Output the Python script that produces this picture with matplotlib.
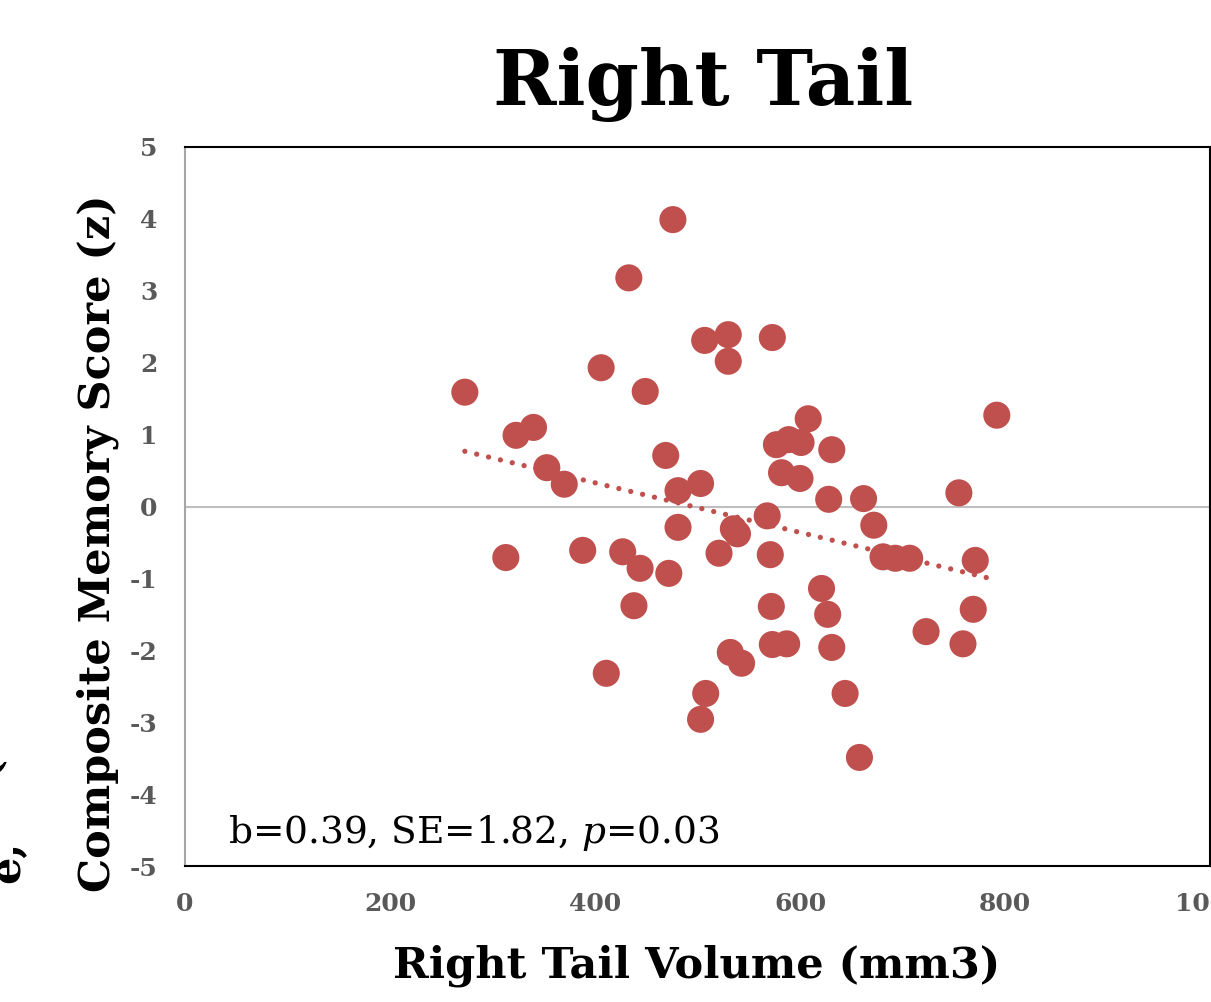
import numpy as np
import matplotlib
matplotlib.use("Agg")
import matplotlib.pyplot as plt

# ---- data ----
volume = [273, 313, 323, 340, 353, 370, 388, 406, 411, 427, 433, 438, 444, 449,
          469, 472, 476, 481, 503, 481, 507, 530, 530, 503, 508, 521, 535, 539,
          532, 543, 568, 571, 572, 573, 573, 587, 577, 589, 601, 582, 600, 608,
          631, 628, 621, 627, 631, 644, 658, 662, 672, 681, 693, 707, 723, 755,
          759, 769, 771, 792]
memory = [1.59, -0.71, 0.99, 1.10, 0.54, 0.31, -0.61, 1.93, -2.32, -0.63, 3.18,
          -1.38, -0.86, 1.60, 0.71, -0.93, 3.99, 0.22, 0.32, -0.29, 2.31, 2.39,
          2.02, -2.96, -2.60, -0.65, -0.31, -0.38, -2.03, -2.18, -0.13, -0.67,
          -1.39, 2.35, -1.92, -1.91, 0.86, 0.93, 0.89, 0.47, 0.39, 1.22, 0.79,
          0.10, -1.14, -1.50, -1.96, -2.60, -3.49, 0.11, -0.26, -0.70, -0.72,
          -0.72, -1.74, 0.19, -1.91, -1.43, -0.75, 1.27]
x_ticks = [0, 200, 400, 600, 800, 1000]
x_tick_labels = ["0", "200", "400", "600", "800", "1000"]
y_ticks = [-5, -4, -3, -2, -1, 0, 1, 2, 3, 4, 5]
y_tick_labels = ["-5", "-4", "-3", "-2", "-1", "0", "1", "2", "3", "4", "5"]

title = "Right Tail"
xlabel = "Right Tail Volume (mm3)"
ylabel = "Composite Memory Score (z)"
stats_text = r"b=0.39, SE=1.82, $p$=0.03"

plt.rcParams['mathtext.fontset'] = 'dejavuserif'
plt.rcParams['axes.unicode_minus'] = False
SERIF = ['DejaVu Serif']
RED = '#C0504D'
GRAY = '#595959'

fig = plt.figure(figsize=(12.11, 10.02), dpi=100)
ax = fig.add_axes([185/1211, 1-866/1002, 1025/1211, 719/1002])

ax.set_xlim(0, 1000)
ax.set_ylim(-5, 5)

ax.axhline(0, color='#BFBFBF', lw=1.5, zorder=1)

ax.scatter(volume, memory, s=380, color=RED, edgecolors='none', zorder=3)

# linear trend line
xv = np.array(volume, dtype=float)
yv = np.array(memory, dtype=float)
m, c = np.polyfit(xv, yv, 1)
xx = np.array([xv.min(), xv.max()])
ax.plot(xx, m*xx + c, color=RED, lw=3.8, linestyle=(0, (0.01, 2.3)),
        dash_capstyle='round', zorder=4)

ax.set_xticks(x_ticks)
ax.set_xticklabels(x_tick_labels)
ax.set_yticks(y_ticks)
ax.set_yticklabels(y_tick_labels)
ax.tick_params(axis='x', length=0, pad=19, colors=GRAY)
ax.tick_params(axis='y', length=0, pad=20, colors=GRAY)
for lab in ax.get_xticklabels() + ax.get_yticklabels():
    lab.set_fontfamily(SERIF)
    lab.set_fontweight('bold')
    lab.set_fontsize(18)
    lab.set_color(GRAY)

for s in ['top', 'right', 'bottom']:
    ax.spines[s].set_color('black')
    ax.spines[s].set_linewidth(1.5)
ax.spines['left'].set_color('#A6A6A6')
ax.spines['left'].set_linewidth(1.5)

fig.text(703/1211, 1-85/1002, title, ha='center', va='center',
         fontsize=55, fontweight='bold', family=SERIF)
fig.text(697/1211, 1-966/1002, xlabel, ha='center', va='center',
         fontsize=31, fontweight='bold', family=SERIF)
fig.text(98/1211, 1-543/1002, ylabel, ha='center', va='center', rotation=90,
         fontsize=31, fontweight='bold', family=SERIF)

ax.text((228-185)/1025, 1-(833-147)/719, stats_text,
        transform=ax.transAxes, ha='left', va='center', fontsize=27,
        family=SERIF)

# clipped remnants of a neighbouring panel's label at the left edge
fig.text(-14/1211, 1-862/1002, "e,", rotation=90, ha='left', va='center',
         fontsize=31, fontweight='bold', family=SERIF)
fig.text(-36/1211, 1-765/1002, "(", rotation=90, ha='left', va='center',
         fontsize=31, fontweight='bold', family=SERIF)

fig.savefig("out.png", dpi=100)
